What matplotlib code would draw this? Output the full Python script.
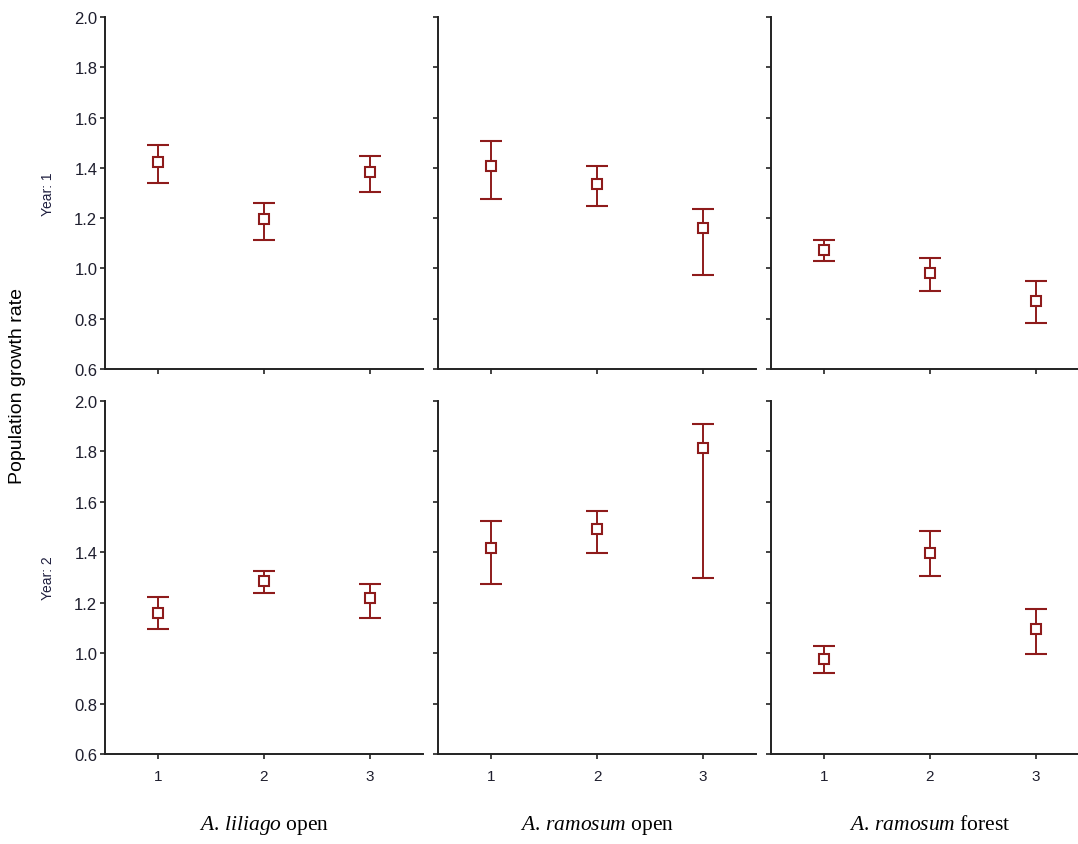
import matplotlib
matplotlib.use("Agg")
import matplotlib.pyplot as plt

# --- Data ---
groups = [r"$\mathit{A.\,liliago}$ open",
          r"$\mathit{A.\,ramosum}$ open",
          r"$\mathit{A.\,ramosum}$ forest"]
years = ["Year: 1", "Year: 2"]
x = [1, 2, 3]

# mean, upper and lower limits: [year][group][x]
mean = [[[1.423, 1.196, 1.383], [1.409, 1.334, 1.159], [1.074, 0.980, 0.872]],
        [[1.161, 1.288, 1.217], [1.418, 1.491, 1.815], [0.978, 1.399, 1.095]]]
upper = [[[1.490, 1.260, 1.447], [1.508, 1.409, 1.235], [1.112, 1.043, 0.950]],
         [[1.224, 1.325, 1.275], [1.523, 1.565, 1.907], [1.029, 1.485, 1.176]]]
lower = [[[1.341, 1.112, 1.304], [1.277, 1.247, 0.974], [1.029, 0.911, 0.783]],
         [[1.096, 1.238, 1.140], [1.276, 1.399, 1.299], [0.923, 1.306, 0.995]]]

yticks = [0.6, 0.8, 1.0, 1.2, 1.4, 1.6, 1.8, 2.0]

plt.rcParams['font.family'] = ['Liberation Sans', 'DejaVu Sans']
plt.rcParams['mathtext.fontset'] = 'custom'
plt.rcParams['mathtext.it'] = 'Liberation Serif:italic'
plt.rcParams['mathtext.rm'] = 'Liberation Serif'

W, H = 1078, 845
fig = plt.figure(figsize=(W / 100, H / 100), dpi=100)

red = '#8e1b1b'
lefts = [105, 438, 771]
rows = [(18, 370), (402, 755)]  # top, bottom in pixels
pw = 318

for r, (top, bot) in enumerate(rows):
    for c, left in enumerate(lefts):
        ax = fig.add_axes([left / W, 1 - bot / H, pw / W, (bot - top) / H])
        m = mean[r][c]
        err_lo = [m[i] - lower[r][c][i] for i in range(3)]
        err_hi = [upper[r][c][i] - m[i] for i in range(3)]
        ax.errorbar(x, m, yerr=[err_lo, err_hi], fmt='s', color=red,
                    mfc='white', mec=red, ms=7, mew=1.5, elinewidth=1.4,
                    capsize=8, capthick=1.4)
        ax.set_xlim(0.5, 3.5)
        ax.set_ylim(0.6, 2.0)
        ax.set_xticks(x)
        ax.set_yticks(yticks)
        for s in ['top', 'right']:
            ax.spines[s].set_visible(False)
        for s in ['left', 'bottom']:
            ax.spines[s].set_linewidth(1.4)
            ax.spines[s].set_color('#222222')
        ax.tick_params(direction='out', length=3.5, width=1.2,
                       color='#222222', labelcolor='#1e1e2e', pad=2)
        if c == 0:
            ax.set_yticklabels([f"{v:.1f}" for v in yticks], fontsize=12)
        else:
            ax.set_yticklabels([])
        if r == 1:
            ax.set_xticklabels([str(v) for v in x], fontsize=11)
            ax.tick_params(axis='x', pad=7)
            fig.text((left + pw / 2) / W, 1 - 826 / H, groups[c],
                     ha='center', va='center', fontsize=15.5,
                     family='Liberation Serif')
        else:
            ax.set_xticklabels([])
    fig.text(48 / W, 1 - (top + bot) / 2 / H, years[r], rotation=90,
             ha='center', va='center', fontsize=10, color='#1e1e3e')

fig.text(18 / W, 1 - 386 / H, "Population growth rate", rotation=90,
         ha='center', va='center', fontsize=14)

fig.savefig("out.png", dpi=100)
